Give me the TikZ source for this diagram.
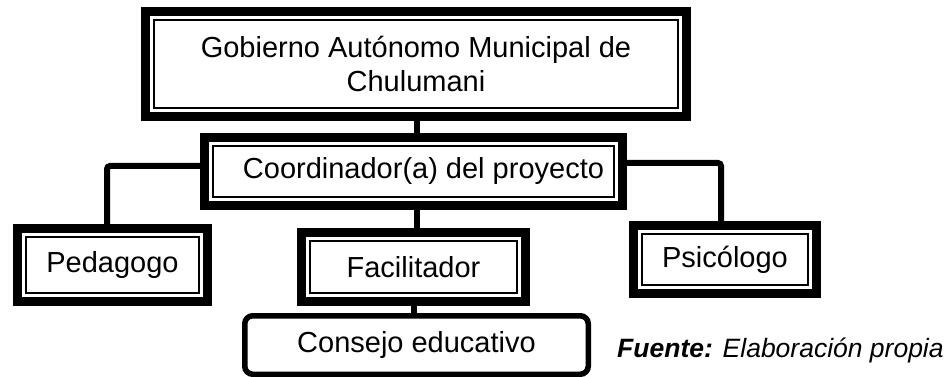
\documentclass[tikz,border=0pt]{standalone}
\usepackage{fontspec}
\setmainfont{Liberation Sans}
\begin{document}
\begin{tikzpicture}[x=1pt,y=1pt,
  fbox/.style={draw=none, inner sep=0pt, align=center,
    font=\fontsize{29}{34.5}\selectfont,
    path picture={
      \fill[black] (path picture bounding box.south west) rectangle (path picture bounding box.north east);
      \fill[white] ([shift={(9,9)}]path picture bounding box.south west) rectangle ([shift={(-9,-9)}]path picture bounding box.north east);
      \draw[line width=2pt] ([shift={(13,13)}]path picture bounding box.south west) rectangle ([shift={(-13,-13)}]path picture bounding box.north east);
    }},
  rbox/.style={draw, line width=5.5pt, rounded corners=8pt, inner sep=0pt,
    font=\fontsize{29}{34.5}\selectfont},
  conn/.style={draw, line width=6pt, rounded corners=3pt}
]
\useasboundingbox (0,0) rectangle (946,-377);

\node[fbox, minimum width=550, minimum height=114] (top) at (416,-64)
  {Gobierno Autónomo Municipal de\\Chulumani};
\node[fbox, minimum width=427, minimum height=77] (coord) at (413.5,-171.5)
  {\hspace*{20pt}Coordinador(a) del proyecto};
\node[fbox, minimum width=199, minimum height=82] (ped) at (112.5,-265) {Pedagogo};
\node[fbox, minimum width=233, minimum height=78] (fac) at (413.5,-267) {Facilitador};
\node[fbox, minimum width=192, minimum height=77] (psi) at (725,-259.5) {Psicólogo};
\node[rbox, minimum width=343.5, minimum height=58.5] (cons) at (416.5,-345) {Consejo educativo};

\node[anchor=base west, inner sep=0pt, font=\fontsize{26.5}{30}\selectfont\itshape] (src) at (617,-357)
  {\textbf{Fuente:} Elaboración propia};

\draw[conn] ([xshift=1]top.south) -- ([xshift=1]top.south |- coord.north);
\draw[conn] ([xshift=3.5]coord.south) -- ([xshift=3.5]coord.south |- fac.north);
\draw[conn] ([xshift=0.5]fac.south) -- ([xshift=0.5]fac.south |- cons.north);
\draw[conn] ([yshift=5.5]coord.west) -| ([xshift=-5.5]ped.north);
\draw[conn] ([yshift=8.5]coord.east) -| ([xshift=-4]psi.north);
\end{tikzpicture}
\end{document}
